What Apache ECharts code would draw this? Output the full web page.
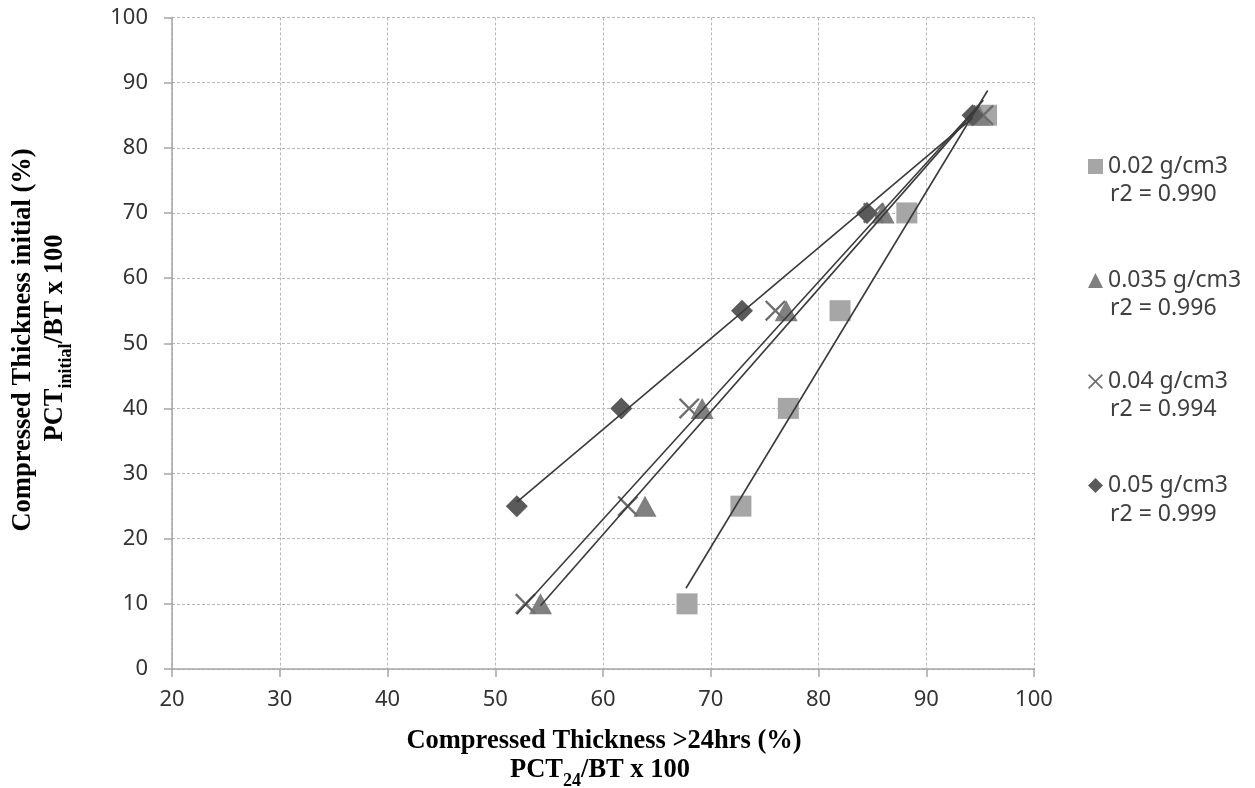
<!DOCTYPE html>
<html>
<head>
<meta charset="utf-8">
<script src="https://cdn.jsdelivr.net/npm/echarts@6/dist/echarts.min.js"></script>
<style>
html,body{margin:0;padding:0;background:#fff;}
#c{width:1255px;height:788px;}
</style>
</head>
<body>
<div id="c"></div>
<script>
// ---- data ----
const seriesNames = ['0.02 g/cm3', '0.035 g/cm3', '0.04 g/cm3', '0.05 g/cm3'];
const r2Labels = ['r2 = 0.990', 'r2 = 0.996', 'r2 = 0.994', 'r2 = 0.999'];

const sqX = [67.8, 72.8, 77.2, 82.0, 88.2, 95.6];
const sqY = [10, 25, 40, 55, 70, 85];
const triX = [54.2, 63.9, 69.2, 77.0, 86.0, 94.9];
const triY = [10, 25, 40, 55, 70, 85];
const crossX = [52.8, 62.3, 68.0, 76.0, 85.1, 95.3];
const crossY = [10, 25, 40, 55, 70, 85];
const diaX = [52.0, 61.7, 72.9, 84.5, 94.3];
const diaY = [25, 40, 55, 70, 85];

// trendline end points (x, y)
const sqTrend = [[67.7, 12.4], [95.7, 88.8]];
const triTrend = [[54.2, 9.7], [94.9, 86.4]];
const crossTrend = [[52.0, 8.4], [95.3, 87.3]];
const diaTrend = [[52.0, 25.6], [94.3, 84.6]];

const xTicks = { min: 20, max: 100, interval: 10 };
const yTicks = { min: 0, max: 100, interval: 10 };

// ---- build ----
function pts(xs, ys) { return xs.map((x, i) => [x, ys[i]]); }

const crossPath = 'path://M0,0.8 L0.8,0 L5,4.2 L9.2,0 L10,0.8 L5.8,5 L10,9.2 L9.2,10 L5,5.8 L0.8,10 L0,9.2 L4.2,5 Z';

const markerDefs = [
  { x: sqX, y: sqY, symbol: 'rect', size: 21, color: '#a6a6a6' },
  { x: triX, y: triY, symbol: 'triangle', size: [23, 21], color: '#808080' },
  { x: crossX, y: crossY, symbol: crossPath, size: 21, color: '#6e6e6e' },
  { x: diaX, y: diaY, symbol: 'diamond', size: 22, color: '#5a5a5a' }
];
const trends = [sqTrend, triTrend, crossTrend, diaTrend];

const series = [];
markerDefs.forEach((m, i) => {
  series.push({
    name: seriesNames[i],
    type: 'scatter',
    symbol: m.symbol,
    symbolSize: m.size,
    itemStyle: { color: m.color, opacity: 1 },
    data: pts(m.x, m.y),
    z: 2,
    emphasis: { disabled: true }
  });
});
trends.forEach((t) => {
  series.push({
    type: 'line',
    data: t,
    showSymbol: false,
    symbol: 'none',
    lineStyle: { color: '#3a3a3a', width: 1.6 },
    z: 3,
    silent: true
  });
});

const legendTops = [155, 269, 370, 474];
const r2Tops = [183, 297, 398, 503];
const legends = seriesNames.map((n, i) => ({
  data: [n],
  orient: 'vertical',
  left: 1088,
  top: legendTops[i],
  padding: 0,
  itemWidth: 15,
  itemHeight: 15,
  itemGap: 0,
  selectedMode: false,
  textStyle: { fontFamily: 'Noto Sans', fontSize: 23, color: '#404040', padding: [0, 0, 0, 0] }
}));

const serif = 'Liberation Serif';
const titleRich = {
  b: { fontFamily: serif, fontWeight: 'bold', fontSize: 26.5, color: '#111', lineHeight: 30, verticalAlign: 'top' },
  s: { fontFamily: serif, fontWeight: 'bold', fontSize: 18, color: '#111', lineHeight: 18, padding: [15, 0, 0, 0], verticalAlign: 'top' }
};

const graphics = [];
r2Labels.forEach((t, i) => {
  graphics.push({
    type: 'text', left: 1110, top: r2Tops[i],
    style: { text: t, fontFamily: 'Noto Sans', fontSize: 23, fill: '#404040' }
  });
});
graphics.push({
  type: 'text', x: 604, y: 743,
  style: { text: '{b|Compressed Thickness >24hrs (%)}', rich: titleRich, align: 'center', verticalAlign: 'middle' }
});
graphics.push({
  type: 'text', x: 600, y: 772,
  style: { text: '{b|PCT}{s|24}{b|/BT x 100}', rich: titleRich, align: 'center', verticalAlign: 'middle' }
});
graphics.push({
  type: 'text', x: 25, y: 340, rotation: Math.PI / 2,
  style: { text: '{b|Compressed Thickness initial (%)}', rich: titleRich, align: 'center', verticalAlign: 'middle' }
});
graphics.push({
  type: 'text', x: 57, y: 338, rotation: Math.PI / 2,
  style: { text: '{b|PCT}{s|initial}{b|/BT x 100}', rich: titleRich, align: 'center', verticalAlign: 'middle' }
});

const axisCommon = {
  type: 'value',
  axisLine: { show: true, lineStyle: { color: '#a6a6a6', width: 1.5 } },
  axisTick: { show: true, length: 8, lineStyle: { color: '#a6a6a6', width: 1.5 } },
  splitLine: { show: true, lineStyle: { color: '#b8b8b8', type: [3, 2], width: 1 } },
  axisLabel: { fontFamily: 'Noto Sans', fontSize: 22, color: '#333' }
};

const option = {
  animation: false,
  backgroundColor: '#fff',
  grid: { left: 172, right: 221, top: 17.5, bottom: 119 },
  xAxis: Object.assign({}, axisCommon, {
    min: xTicks.min, max: xTicks.max, interval: xTicks.interval,
    axisLabel: Object.assign({}, axisCommon.axisLabel, { margin: 20 })
  }),
  yAxis: Object.assign({}, axisCommon, {
    min: yTicks.min, max: yTicks.max, interval: yTicks.interval,
    axisLabel: Object.assign({}, axisCommon.axisLabel, { margin: 24 })
  }),
  legend: legends,
  graphic: graphics,
  series: series
};

const chart = echarts.init(document.getElementById('c'));
chart.setOption(option);
</script>
</body>
</html>
